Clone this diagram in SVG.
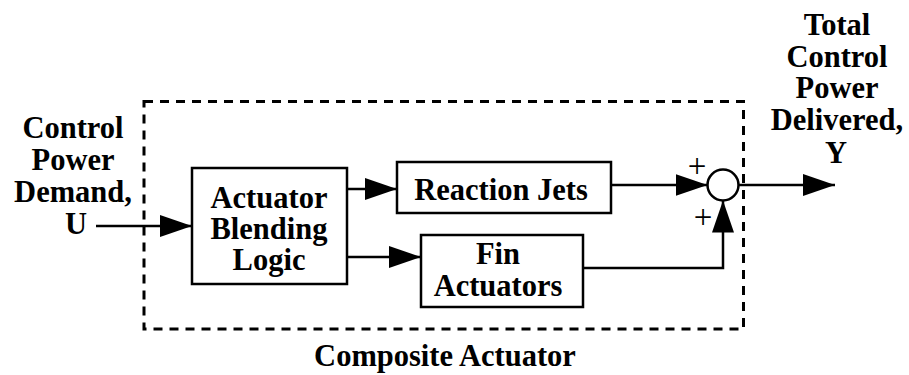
<svg xmlns="http://www.w3.org/2000/svg" width="909" height="375" viewBox="0 0 909 375">
<style>
text{font-family:'Liberation Serif','Times New Roman',Tinos,'Nimbus Roman','DejaVu Serif',serif;font-weight:bold;font-size:30.5px;fill:#000;text-anchor:middle}
.plus{font-weight:normal;font-size:33px}
.box{fill:#fff;stroke:#000;stroke-width:2.5}
.wire{fill:none;stroke:#000;stroke-width:2.5}
.dash{fill:none;stroke:#000;stroke-width:3;stroke-dasharray:9 7}
</style>
<defs>
<marker id="ah" markerUnits="userSpaceOnUse" markerWidth="32" markerHeight="22" refX="32" refY="11" orient="auto">
<path d="M0,0 L32,11 L0,22 Z" fill="#000"/>
</marker>
</defs>
<g id="composite">
<rect class="dash" x="144" y="101.5" width="599.5" height="227.5"/>
<text x="445" y="366">Composite Actuator</text>
</g>
<g id="input">
<text x="73" y="138">Control</text>
<text x="73" y="170">Power</text>
<text x="73" y="202">Demand,</text>
<text x="76" y="234">U</text>
</g>
<g id="output">
<text x="837" y="35">Total</text>
<text x="837" y="67">Control</text>
<text x="837" y="98">Power</text>
<text x="837" y="130">Delivered,</text>
<text x="836" y="163">Y</text>
</g>
<g id="blending">
<rect class="box" x="192" y="168" width="155" height="116"/>
<text x="269" y="208">Actuator</text>
<text x="269" y="239">Blending</text>
<text x="269" y="270">Logic</text>
</g>
<g id="jets">
<rect class="box" x="397" y="162" width="214" height="51"/>
<text x="501" y="200">Reaction Jets</text>
</g>
<g id="fin">
<rect class="box" x="421" y="235" width="162" height="72"/>
<text x="498" y="264">Fin</text>
<text x="498" y="296">Actuators</text>
</g>
<g id="sum">
<circle cx="723" cy="185" r="15.5" fill="#fff" stroke="#000" stroke-width="2.5"/>
<text class="plus" x="697" y="177">+</text>
<text class="plus" x="703" y="228">+</text>
</g>
<g id="connectors">
<line class="wire" x1="96" y1="226" x2="192" y2="226" marker-end="url(#ah)"/>
<line class="wire" x1="347" y1="189" x2="397" y2="189" marker-end="url(#ah)"/>
<line class="wire" x1="347" y1="257" x2="421" y2="257" marker-end="url(#ah)"/>
<line class="wire" x1="611" y1="185" x2="707.5" y2="185" marker-end="url(#ah)"/>
<polyline class="wire" points="583,268 723,268 723,200.5" marker-end="url(#ah)"/>
<line class="wire" x1="738.5" y1="185" x2="835" y2="185" marker-end="url(#ah)"/>
</g>
</svg>
